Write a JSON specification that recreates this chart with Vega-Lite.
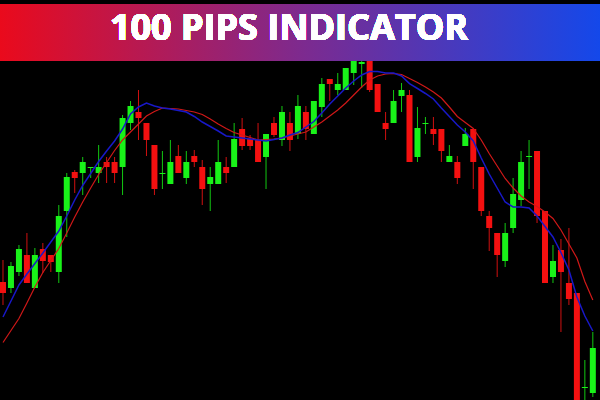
{
  "$schema": "https://vega.github.io/schema/vega-lite/v6.json",
  "width": 600,
  "height": 400,
  "padding": 0,
  "autosize": {"type": "fit", "contains": "padding"},
  "background": "#000000",
  "config": {"view": {"stroke": null}, "axis": {"disable": true}},
  "data": {"values": [
    {"i":1,"open":118,"close":107,"high":140,"low":95,"ma1":83,"ma2":57.5},
    {"i":2,"open":112,"close":134,"high":138,"low":107,"ma1":99,"ma2":69.5},
    {"i":3,"open":128,"close":151,"high":155,"low":124,"ma1":115,"ma2":81.5},
    {"i":4,"open":145,"close":117,"high":167,"low":117,"ma1":126,"ma2":97},
    {"i":5,"open":112,"close":145,"high":152,"low":112,"ma1":136.5,"ma2":113},
    {"i":6,"open":151,"close":139,"high":157,"low":127,"ma1":147,"ma2":127.5},
    {"i":7,"open":145,"close":138,"high":145,"low":128,"ma1":158,"ma2":139.5},
    {"i":8,"open":128,"close":184,"high":195,"low":117,"ma1":169,"ma2":151.5},
    {"i":9,"open":189,"close":223,"high":227,"low":163,"ma1":184,"ma2":167},
    {"i":10,"open":228,"close":222,"high":230,"low":207,"ma1":200,"ma2":183},
    {"i":11,"open":227,"close":238,"high":243,"low":205,"ma1":214.5,"ma2":198},
    {"i":12,"open":232,"close":233,"high":233,"low":222,"ma1":226.5,"ma2":212},
    {"i":13,"open":227,"close":233,"high":255,"low":217,"ma1":238.5,"ma2":225.5},
    {"i":14,"open":238,"close":233,"high":243,"low":217,"ma1":249,"ma2":237.5},
    {"i":15,"open":238,"close":227,"high":243,"low":217,"ma1":259,"ma2":249.5},
    {"i":16,"open":233,"close":282,"high":285,"low":205,"ma1":271,"ma2":260},
    {"i":17,"open":277,"close":294,"high":299,"low":270,"ma1":286,"ma2":268},
    {"i":18,"open":288,"close":282,"high":310,"low":260,"ma1":293,"ma2":276},
    {"i":19,"open":277,"close":260,"high":277,"low":244,"ma1":297,"ma2":284},
    {"i":20,"open":255,"close":211,"high":255,"low":205,"ma1":294,"ma2":288.5},
    {"i":21,"open":226,"close":227,"high":249,"low":211,"ma1":292,"ma2":292},
    {"i":22,"open":216,"close":238,"high":260,"low":216,"ma1":291,"ma2":291.5},
    {"i":23,"open":244,"close":227,"high":255,"low":227,"ma1":289.5,"ma2":291},
    {"i":24,"open":222,"close":238,"high":249,"low":216,"ma1":288,"ma2":289.5},
    {"i":25,"open":244,"close":238,"high":250,"low":233,"ma1":283.5,"ma2":288},
    {"i":26,"open":233,"close":211,"high":240,"low":195,"ma1":278,"ma2":285.5},
    {"i":27,"open":216,"close":223,"high":233,"low":189,"ma1":273.5,"ma2":281},
    {"i":28,"open":216,"close":238,"high":260,"low":216,"ma1":269,"ma2":276},
    {"i":29,"open":233,"close":227,"high":243,"low":217,"ma1":264,"ma2":271.5},
    {"i":30,"open":233,"close":261,"high":277,"low":233,"ma1":263,"ma2":267.5},
    {"i":31,"open":271,"close":254,"high":282,"low":250,"ma1":262,"ma2":265},
    {"i":32,"open":261,"close":254,"high":265,"low":250,"ma1":261,"ma2":262.5},
    {"i":33,"open":260,"close":238,"high":277,"low":238,"ma1":260,"ma2":260},
    {"i":34,"open":243,"close":266,"high":266,"low":211,"ma1":259,"ma2":260.5},
    {"i":35,"open":277,"close":265,"high":283,"low":263,"ma1":260.5,"ma2":261},
    {"i":36,"open":260,"close":288,"high":294,"low":254,"ma1":262,"ma2":262},
    {"i":37,"open":277,"close":260,"high":288,"low":249,"ma1":265,"ma2":264},
    {"i":38,"open":266,"close":294,"high":305,"low":261,"ma1":267.5,"ma2":266},
    {"i":39,"open":288,"close":271,"high":294,"low":260,"ma1":273,"ma2":268},
    {"i":40,"open":266,"close":299,"high":299,"low":266,"ma1":278.5,"ma2":273},
    {"i":41,"open":293,"close":316,"high":322,"low":283,"ma1":287,"ma2":278},
    {"i":42,"open":321,"close":316,"high":321,"low":299,"ma1":296,"ma2":284},
    {"i":43,"open":310,"close":316,"high":327,"low":305,"ma1":304,"ma2":290},
    {"i":44,"open":310,"close":332,"high":332,"low":310,"ma1":312,"ma2":297},
    {"i":45,"open":327,"close":345,"high":350,"low":315,"ma1":319,"ma2":305},
    {"i":46,"open":336,"close":338,"high":350,"low":312,"ma1":325,"ma2":313},
    {"i":47,"open":342,"close":310,"high":348,"low":308,"ma1":328.4,"ma2":320},
    {"i":48,"open":316,"close":288,"high":316,"low":288,"ma1":328.6,"ma2":324},
    {"i":49,"open":277,"close":271,"high":288,"low":260,"ma1":327,"ma2":326},
    {"i":50,"open":277,"close":299,"high":310,"low":277,"ma1":327,"ma2":326.5},
    {"i":51,"open":304,"close":310,"high":317,"low":288,"ma1":324,"ma2":325.5},
    {"i":52,"open":305,"close":238,"high":310,"low":238,"ma1":316.4,"ma2":321.5},
    {"i":53,"open":243,"close":272,"high":293,"low":238,"ma1":311.5,"ma2":317.5},
    {"i":54,"open":276,"close":277,"high":283,"low":266,"ma1":306.5,"ma2":313},
    {"i":55,"open":271,"close":266,"high":283,"low":255,"ma1":301,"ma2":308},
    {"i":56,"open":271,"close":249,"high":271,"low":238,"ma1":292,"ma2":302},
    {"i":57,"open":238,"close":244,"high":255,"low":238,"ma1":283.5,"ma2":293},
    {"i":58,"open":238,"close":222,"high":244,"low":216,"ma1":275,"ma2":283.5},
    {"i":59,"open":254,"close":266,"high":272,"low":254,"ma1":268,"ma2":277.5},
    {"i":60,"open":271,"close":238,"high":271,"low":211,"ma1":259,"ma2":271.5},
    {"i":61,"open":233,"close":189,"high":233,"low":184,"ma1":242,"ma2":260},
    {"i":62,"open":184,"close":172,"high":189,"low":149,"ma1":226,"ma2":246.5},
    {"i":63,"open":167,"close":145,"high":167,"low":123,"ma1":212,"ma2":234},
    {"i":64,"open":139,"close":167,"high":177,"low":133,"ma1":198,"ma2":221.5},
    {"i":65,"open":172,"close":206,"high":222,"low":167,"ma1":193,"ma2":212},
    {"i":66,"open":200,"close":238,"high":249,"low":194,"ma1":193,"ma2":204},
    {"i":67,"open":243,"close":244,"high":260,"low":211,"ma1":192,"ma2":198},
    {"i":68,"open":249,"close":184,"high":249,"low":177,"ma1":184,"ma2":193.5},
    {"i":69,"open":189,"close":117,"high":189,"low":117,"ma1":173.5,"ma2":188},
    {"i":70,"open":123,"close":139,"high":155,"low":117,"ma1":163,"ma2":181.5},
    {"i":71,"open":150,"close":128,"high":161,"low":68,"ma1":147.5,"ma2":170},
    {"i":72,"open":117,"close":101,"high":172,"low":95,"ma1":130,"ma2":156},
    {"i":73,"open":107,"close":-10,"high":107,"low":-10,"ma1":103,"ma2":142},
    {"i":74,"open":12,"close":13,"high":40,"low":0,"ma1":84,"ma2":118.5},
    {"i":75,"open":7,"close":52,"high":68,"low":3,"ma1":69,"ma2":100}
  ]},
  "encoding": {
    "x": {"field": "i", "type": "quantitative", "scale": {"domain": [0.624, 75.9], "nice": false, "zero": false, "padding": 0}, "axis": null}
  },
  "layer": [
    {
      "mark": {"type": "rule", "strokeWidth": 1, "clip": true},
      "encoding": {
        "y": {"field": "low", "type": "quantitative", "scale": {"domain": [0, 400], "nice": false, "zero": false, "padding": 0}, "axis": null},
        "y2": {"field": "high"},
        "color": {"condition": {"test": "datum.close >= datum.open", "value": "#12c812"}, "value": "#d01010"}
      }
    },
    {
      "mark": {"type": "bar", "width": 6, "clip": true},
      "encoding": {
        "y": {"field": "open", "type": "quantitative", "scale": {"domain": [0, 400], "nice": false, "zero": false, "padding": 0}, "axis": null},
        "y2": {"field": "close"},
        "color": {"condition": {"test": "datum.close >= datum.open", "value": "#19f219"}, "value": "#f41010"}
      }
    },
    {
      "mark": {"type": "line", "color": "#d01818", "strokeWidth": 1.2, "clip": true},
      "encoding": {
        "y": {"field": "ma2", "type": "quantitative", "scale": {"domain": [0, 400], "nice": false, "zero": false, "padding": 0}, "axis": null}
      }
    },
    {
      "mark": {"type": "line", "color": "#1818c8", "strokeWidth": 1.5, "clip": true},
      "encoding": {
        "y": {"field": "ma1", "type": "quantitative", "scale": {"domain": [0, 400], "nice": false, "zero": false, "padding": 0}, "axis": null}
      }
    },
    {
      "mark": {"type": "rect", "color": {"gradient": "linear", "x1": 0, "x2": 1, "y1": 0, "y2": 0, "stops": [{"offset": 0, "color": "#ea0a1c"}, {"offset": 0.5, "color": "#7e2a8e"}, {"offset": 1, "color": "#1448ea"}]}},
      "encoding": {
        "x": {"datum": 0.624, "type": "quantitative"},
        "x2": {"datum": 75.9},
        "y": {"datum": 339, "type": "quantitative"},
        "y2": {"datum": 396}
      }
    },
    {
      "mark": {"type": "text", "text": "100 PIPS INDICATOR", "font": "Open Sans", "fontWeight": "bold", "fontSize": 36, "color": "#ffffff", "align": "center", "baseline": "middle"},
      "encoding": {
        "x": {"datum": 36.88, "type": "quantitative"},
        "y": {"datum": 371, "type": "quantitative"}
      }
    }
  ]
}
